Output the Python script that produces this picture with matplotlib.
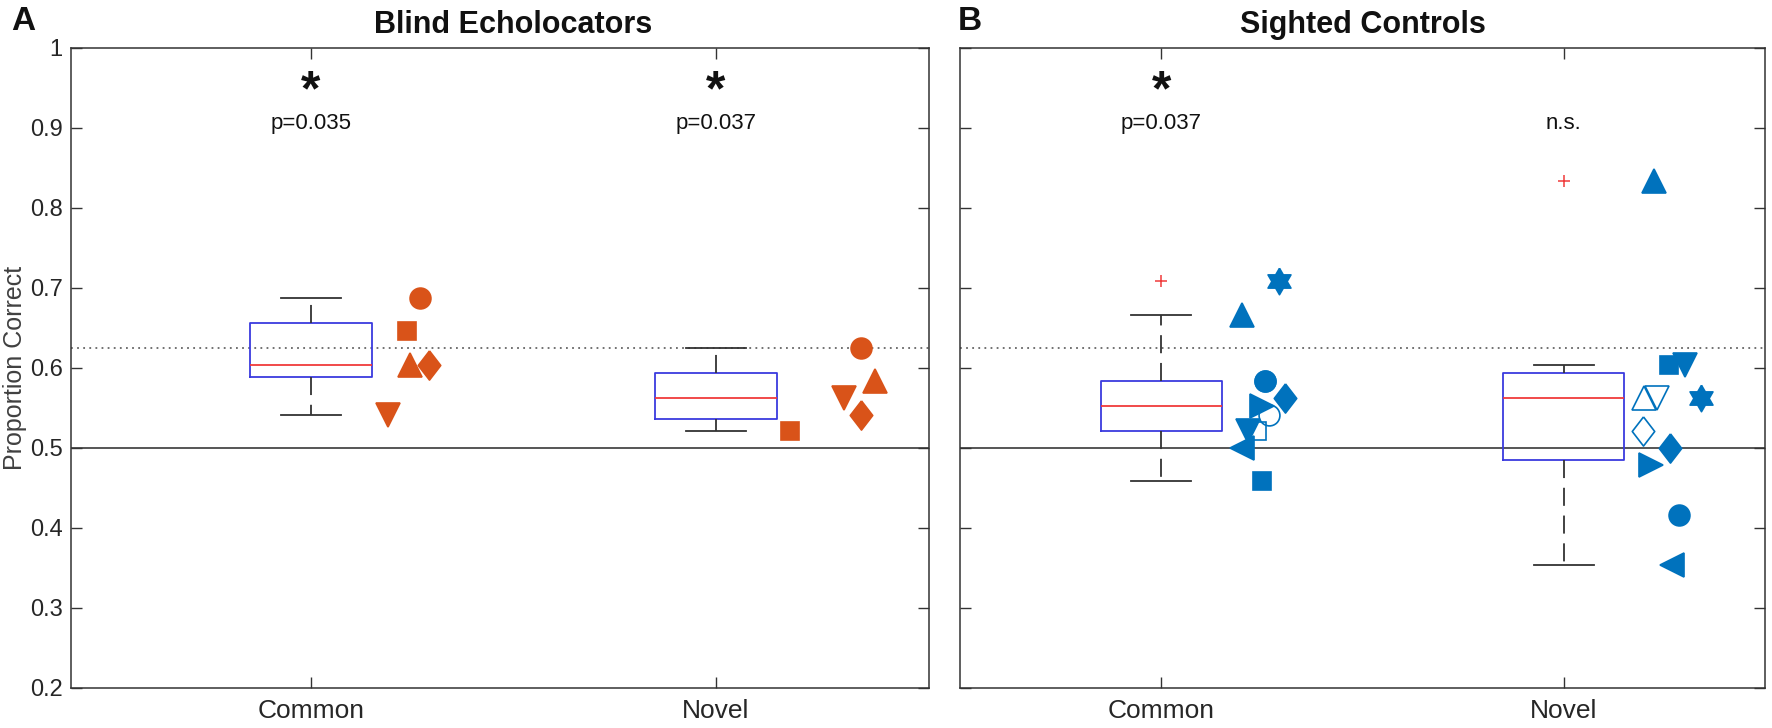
import numpy as np
import matplotlib
matplotlib.use('Agg')
import matplotlib.pyplot as plt

plt.rcParams['font.family'] = ['Liberation Sans', 'DejaVu Sans']
plt.rcParams['mathtext.fontset'] = 'custom'
plt.rcParams['mathtext.rm'] = 'Liberation Sans'
plt.rcParams['mathtext.bf'] = 'Liberation Sans:bold'
plt.rcParams['lines.scale_dashes'] = False

# ---- data (proportion correct) ----
conditions = ['Common', 'Novel']

# blind echolocators
blind_common = [0.6875, 0.6458, 0.6042, 0.6042, 0.5417]
blind_common_x = [1.270, 1.236, 1.245, 1.290, 1.189]
blind_novel = [0.6250, 0.5208, 0.5833, 0.5417, 0.5625]
blind_novel_x = [2.359, 2.183, 2.393, 2.359, 2.317]
blind_markers = ['o', 's', '^', 'd', 'v']

# sighted controls
sighted_common = [0.7083, 0.6667, 0.5833, 0.5833, 0.5625, 0.5521, 0.5417, 0.5208, 0.5208, 0.5000, 0.4583]
sighted_common_x = [1.293, 1.201, 1.258, 1.258, 1.308, 1.251, 1.268, 1.238, 1.216, 1.201, 1.251]
sighted_common_markers = ['hex', '^', 'o', 'o', 'd', '>', 'o', 's', 'v', '<', 's']
sighted_common_filled = [True, True, True, True, True, True, False, False, True, True, True]

sighted_novel = [0.8333, 0.6042, 0.6042, 0.5625, 0.5625, 0.5625, 0.5208, 0.5000, 0.4792, 0.4167, 0.3542]
sighted_novel_x = [2.225, 2.262, 2.301, 2.341, 2.200, 2.232, 2.197, 2.264, 2.217, 2.286, 2.269]
sighted_novel_markers = ['^', 's', 'v', 'hex', '^', 'v', 'd', 'd', '>', 'o', '<']
sighted_novel_filled = [True, True, True, True, False, False, False, True, True, True, True]

chance_line = 0.5
threshold_line = 0.625

blind_annot = [('*', 'p=0.035'), ('*', 'p=0.037')]
sighted_annot = [('*', 'p=0.037'), ('', 'n.s.')]

ORANGE = '#D95319'
BLUE = '#0072BD'
TXT = '#262626'

# custom MATLAB-like marker shapes (closed outlines)
ang = np.linspace(np.pi / 2, np.pi / 2 + 2 * np.pi, 13)
rad = np.where(np.arange(13) % 2 == 0, 1.0, 0.577)
HEX = list(zip(rad * np.cos(ang), rad * np.sin(ang)))
DIAM = [(0, 1), (0.77, 0), (0, -1), (-0.77, 0), (0, 1)]

marker_shape = {'hex': HEX, 'd': DIAM}
marker_size = {'o': 15, 's': 13.5, '^': 17, 'v': 17, '<': 17, '>': 17, 'd': 21, 'hex': 19}


def mprctile(x, p):
    # MATLAB-style percentile
    x = np.sort(np.asarray(x))
    n = len(x)
    pos = np.arange(1, n + 1) - 0.5
    return np.interp(p / 100.0 * n, pos, x)


def box_stats(x):
    x = np.asarray(x)
    q1, med, q3 = mprctile(x, 25), mprctile(x, 50), mprctile(x, 75)
    iqr = q3 - q1
    hi = x[x <= q3 + 1.5 * iqr].max()
    lo = x[x >= q1 - 1.5 * iqr].min()
    fl = x[(x > hi) | (x < lo)]
    return dict(med=med, q1=q1, q3=q3, whishi=hi, whislo=lo, fliers=fl, label='')


def draw_panel(ax, groups, positions):
    stats = [box_stats(g) for g in groups]
    ax.bxp(stats, positions=positions, widths=0.3, showfliers=True,
           boxprops=dict(color='#3a3ade', linewidth=1.3),
           medianprops=dict(color='#f03a3a', linewidth=1.3),
           whiskerprops=dict(color='#333333', linewidth=1.3, linestyle=(0, (13, 7))),
           capprops=dict(color='#333333', linewidth=1.3),
           flierprops=dict(marker='+', markeredgecolor='#f03a3a', markersize=9,
                           markeredgewidth=1.1, linestyle='none'),
           zorder=3)
    ax.axhline(threshold_line, color='#666666', linewidth=1.3, linestyle=(0, (1.3, 3.1)), zorder=1)
    ax.axhline(chance_line, color='#555555', linewidth=1.4, zorder=1)


def draw_points(ax, xs, ys, markers, filled, color):
    for x, y, m, f in zip(xs, ys, markers, filled):
        shape = marker_shape.get(m, m)
        ax.plot(x, y, marker=shape, markersize=marker_size[m], linestyle='none',
                markerfacecolor=color if f else 'none', markeredgecolor=color,
                markeredgewidth=1.2, zorder=4 if f else 5)


def style_axes(ax, xlim, show_ylabels):
    ax.set_xlim(*xlim)
    ax.set_ylim(0.2, 1.0)
    ax.set_xticks([1, 2])
    ax.set_xticklabels(conditions, fontsize=19)
    yt = np.round(np.arange(0.2, 1.01, 0.1), 1)
    ax.set_yticks(yt)
    if show_ylabels:
        ax.set_yticklabels(['%g' % v for v in yt], fontsize=17)
    else:
        ax.set_yticklabels([])
    ax.tick_params(direction='in', length=8, width=1.0, color='#333333',
                   labelcolor=TXT, right=True, top=True)
    ax.tick_params(axis='x', pad=8)
    ax.tick_params(axis='y', pad=6)
    for s in ax.spines.values():
        s.set_color('#333333')
        s.set_linewidth(1.1)


fig = plt.figure(figsize=(17.72, 7.28), dpi=100)
axA = fig.add_axes([71 / 1772, 40 / 728, 858 / 1772, 640 / 728])
axB = fig.add_axes([960 / 1772, 40 / 728, 805 / 1772, 640 / 728])

# panel A
draw_panel(axA, [blind_common, blind_novel], [1, 2])
draw_points(axA, blind_common_x, blind_common, blind_markers, [True] * 5, ORANGE)
draw_points(axA, blind_novel_x, blind_novel, blind_markers, [True] * 5, ORANGE)
style_axes(axA, (0.407, 2.526), True)
axA.set_ylabel('Proportion Correct', fontsize=18, color='#404040')
axA.yaxis.set_label_coords(-0.051, 0.5)
axA.text(0.5 + (0.5 - 0.407 - 0.026) / 2.119 / 2, 1.012, 'Blind Echolocators',
         transform=axA.transAxes, ha='center', va='bottom', fontsize=22,
         fontweight='bold', color='#111111')

# panel B
draw_panel(axB, [sighted_common, sighted_novel], [1, 2])
draw_points(axB, sighted_common_x, sighted_common, sighted_common_markers,
            sighted_common_filled, BLUE)
draw_points(axB, sighted_novel_x, sighted_novel, sighted_novel_markers,
            sighted_novel_filled, BLUE)
style_axes(axB, (0.5, 2.5), False)
axB.text(0.5, 1.012, 'Sighted Controls', transform=axB.transAxes, ha='center',
         va='bottom', fontsize=22, fontweight='bold', color='#111111')

for ax, ann in [(axA, blind_annot), (axB, sighted_annot)]:
    for pos, (star, ptxt) in zip([1, 2], ann):
        if star:
            ax.text(pos, 0.946, r'$\mathbf{' + star + '}$', ha='center', va='center',
                    fontsize=36, color='#111111')
        ax.text(pos, 0.906, ptxt, ha='center', va='center', fontsize=16, color='#111111')

fig.text(11 / 1772, 1 - 22 / 728, 'A', ha='left', va='center', fontsize=24,
         fontweight='bold', color='#111111')
fig.text(958 / 1772, 1 - 22 / 728, 'B', ha='left', va='center', fontsize=24,
         fontweight='bold', color='#111111')

fig.savefig('out.png', dpi=100)
